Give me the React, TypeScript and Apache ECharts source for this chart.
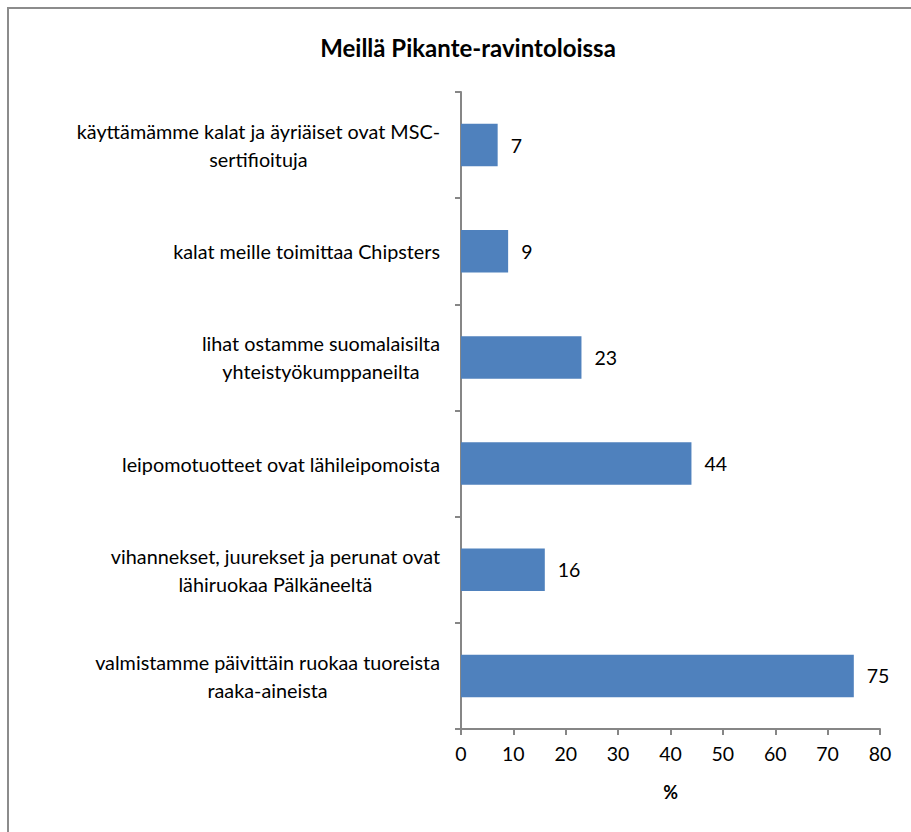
import React, { useEffect, useRef } from "react";
import * as echarts from "echarts";

const categories: string[][] = [
  ["käyttämämme kalat ja äyriäiset ovat MSC-", "sertifioituja"],
  ["kalat meille toimittaa Chipsters"],
  ["lihat ostamme suomalaisilta", "yhteistyökumppaneilta"],
  ["leipomotuotteet ovat lähileipomoista"],
  ["vihannekset, juurekset ja perunat ovat", "lähiruokaa Pälkäneeltä"],
  ["valmistamme päivittäin ruokaa tuoreista", "raaka-aineista"],
];
const values: number[] = [7, 9, 23, 44, 16, 75];
const xTicks: number[] = [0, 10, 20, 30, 40, 50, 60, 70, 80];
const title = "Meillä Pikante-ravintoloissa";
const xName = "%";

const FONT = "Lato, 'Open Sans', sans-serif";

export default function App() {
  const ref = useRef<HTMLDivElement>(null);
  useEffect(() => {
    if (!ref.current) return;
    const chart = echarts.init(ref.current, undefined, { renderer: "svg" });
    const catNames = categories.map((c) => c.join("\n"));
    chart.setOption({
      animation: false,
      backgroundColor: "#ffffff",
      title: {
        text: title,
        left: 463,
        textAlign: "center",
        top: 30,
        textStyle: { fontFamily: FONT, fontSize: 24, fontWeight: "bold", color: "#000" },
      },
      graphic: [
        {
          type: "polyline",
          shape: { points: [[8, 900], [8, 8], [911, 8]] },
          style: { stroke: "#8c8c8c", lineWidth: 2, fill: "none" },
          silent: true,
        },
      ],
      grid: { left: 461, right: 31, top: 92, bottom: 103, containLabel: false },
      xAxis: {
        type: "value",
        min: xTicks[0],
        max: xTicks[xTicks.length - 1],
        interval: 10,
        name: xName,
        nameLocation: "middle",
        nameGap: 54,
        nameTextStyle: { fontFamily: FONT, fontSize: 18, fontWeight: "bold", color: "#000" },
        axisLine: { show: true, lineStyle: { color: "#868686", width: 2 } },
        axisTick: { show: true, length: 6, lineStyle: { color: "#868686", width: 2 } },
        splitLine: { show: false },
        axisLabel: { fontFamily: FONT, fontSize: 19.5, color: "#000", margin: 14 },
      },
      yAxis: {
        type: "category",
        inverse: true,
        data: catNames,
        axisLine: { show: true, lineStyle: { color: "#868686", width: 2 } },
        axisTick: { show: true, length: 6, inside: false, lineStyle: { color: "#868686", width: 2 } },
        axisLabel: {
          margin: 21,
          align: "right",
          formatter: (v: string) => v.split("\n").map((l) => "{c|" + l + "}").join("\n"),
          rich: {
            c: { align: "center", fontFamily: FONT, fontSize: 19.8, color: "#000", lineHeight: 28 },
          },
        },
      },
      series: [
        {
          type: "bar",
          data: values,
          barWidth: "40%",
          itemStyle: { color: "#4f81bd" },
          label: {
            show: true,
            position: "right",
            distance: 13,
            fontFamily: FONT,
            fontSize: 19.5,
            color: "#000",
          },
        },
      ],
    });
    return () => chart.dispose();
  }, []);
  return (
    <div
      ref={ref}
      style={{ position: "absolute", left: 0, top: 0, width: 911, height: 832 }}
    />
  );
}
